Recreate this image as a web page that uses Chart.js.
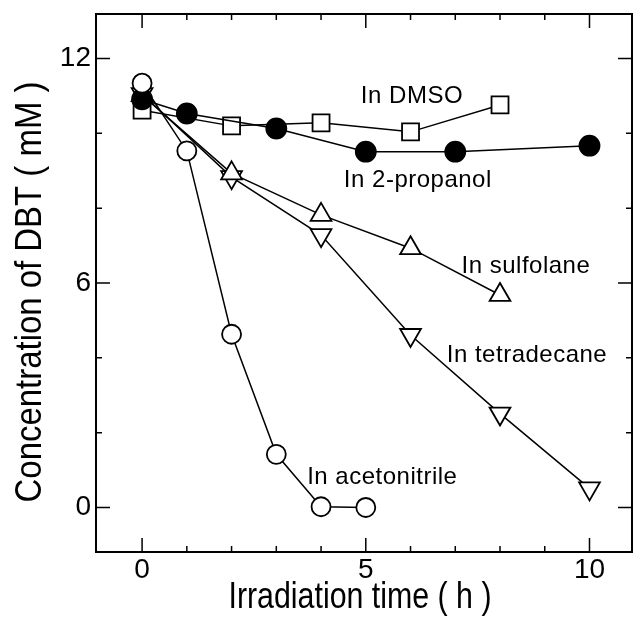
<!DOCTYPE html>
<html>
<head>
<meta charset="utf-8">
<script src="https://cdn.jsdelivr.net/npm/chart.js@4"></script>
<style>
  html, body { margin: 0; padding: 0; background: #fff; }
  #wrap { width: 633px; height: 630px; }
</style>
</head>
<body>
<div id="wrap"><canvas id="chart"></canvas></div>
<script>
// Data (time in h, DBT in mM)
const acetonitrileX = [0, 1, 2, 3, 4, 5];
const acetonitrileY = [11.34, 9.53, 4.63, 1.42, 0.02, 0.0];
const dmsoX = [0, 2, 4, 6, 8];
const dmsoY = [10.62, 10.2, 10.28, 10.04, 10.76];
const propanolX = [0, 1, 3, 5, 7, 10];
const propanolY = [10.91, 10.53, 10.13, 9.51, 9.51, 9.67];
const sulfolaneX = [0, 2, 4, 6, 8];
const sulfolaneY = [11.02, 8.93, 7.82, 6.93, 5.68];
const tetradecaneX = [0, 2, 4, 6, 8, 10];
const tetradecaneY = [11.05, 8.83, 7.28, 4.61, 2.51, 0.51];

// axes
const xTicks = [0, 1, 2, 3, 4, 5, 6, 7, 8, 9, 10];
const xLabels = [0, 5, 10];
const yTicks = [0, 2, 4, 6, 8, 10, 12];
const yLabels = [0, 6, 12];
const xTitle = "Irradiation time ( h )";
const yTitle = "Concentration of DBT ( mM )";

// text labels next to the curves
const noteTexts = ["In DMSO", "In 2-propanol", "In sulfolane", "In tetradecane", "In acetonitrile"];
const noteX = [4.89, 4.51, 7.14, 6.81, 3.69];
const noteY = [10.81, 8.56, 6.28, 3.89, 0.62];

const pts = (xs, ys) => xs.map((v, i) => ({ x: v, y: ys[i] }));

function series(label, data, style, fill, radius, rotation) {
  return {
    label: label,
    data: data,
    borderColor: "#000",
    borderWidth: 1.5,
    pointStyle: style,
    pointRadius: radius,
    pointRotation: rotation || 0,
    pointBackgroundColor: fill,
    pointBorderColor: "#000",
    pointBorderWidth: 1.8,
    tension: 0,
    fill: false,
    clip: false,
  };
}

const frameTicks = {
  id: "frameTicks",
  afterDraw(chart) {
    const { ctx, chartArea: a, scales } = chart;
    const x = scales.x, y = scales.y;
    ctx.save();
    ctx.strokeStyle = "#000";
    ctx.lineWidth = 1.5;
    ctx.beginPath();
    xTicks.forEach((v) => {
      const px = x.getPixelForValue(v);
      const len = xLabels.includes(v) ? 14 : 6;
      ctx.moveTo(px, a.bottom); ctx.lineTo(px, a.bottom - len);
      ctx.moveTo(px, a.top); ctx.lineTo(px, a.top + len);
    });
    yTicks.forEach((v) => {
      const py = y.getPixelForValue(v);
      const len = yLabels.includes(v) ? 14 : 6;
      ctx.moveTo(a.left, py); ctx.lineTo(a.left + len, py);
      ctx.moveTo(a.right, py); ctx.lineTo(a.right - len, py);
    });
    ctx.stroke();
    ctx.lineWidth = 2;
    ctx.strokeRect(a.left, a.top, a.right - a.left, a.bottom - a.top);

    // axis titles in a narrow face (squeezed sans)
    ctx.fillStyle = "#000";
    ctx.font = "37px 'Liberation Sans', Arial, sans-serif";
    ctx.textAlign = "center";
    ctx.textBaseline = "alphabetic";
    ctx.save();
    ctx.translate((a.left + a.right) / 2 - 4, 608);
    ctx.scale(0.82, 1);
    ctx.fillText(xTitle, 0, 0);
    ctx.restore();
    ctx.save();
    ctx.translate(41, (a.top + a.bottom) / 2 + 9);
    ctx.rotate(-Math.PI / 2);
    ctx.scale(0.89, 1);
    ctx.fillText(yTitle, 0, 0);
    ctx.restore();
    ctx.restore();
  },
};

const notes = {
  id: "notes",
  afterDatasetsDraw(chart) {
    const { ctx, scales } = chart;
    ctx.save();
    ctx.fillStyle = "#000";
    ctx.font = "24px 'Liberation Sans', Arial, sans-serif";
    ctx.letterSpacing = "0.5px";
    ctx.textAlign = "left";
    ctx.textBaseline = "alphabetic";
    noteTexts.forEach((t, i) => {
      ctx.fillText(t, scales.x.getPixelForValue(noteX[i]), scales.y.getPixelForValue(noteY[i]));
    });
    ctx.restore();
  },
};

new Chart(document.getElementById("chart"), {
  type: "line",
  data: {
    datasets: [
      series("In acetonitrile", pts(acetonitrileX, acetonitrileY), "circle", "#fff", 9.5),
      series("In 2-propanol", pts(propanolX, propanolY), "circle", "#000", 10),
      series("In sulfolane", pts(sulfolaneX, sulfolaneY), "triangle", "#fff", 12),
      series("In tetradecane", pts(tetradecaneX, tetradecaneY), "triangle", "#fff", 12, 180),
      series("In DMSO", pts(dmsoX, dmsoY), "rect", "#fff", 12),
    ],
  },
  options: {
    responsive: true,
    maintainAspectRatio: false,
    animation: false,
    layout: { autoPadding: false, padding: { top: 14, right: 1, left: 0, bottom: 0 } },
    plugins: { legend: { display: false }, tooltip: { enabled: false } },
    scales: {
      x: {
        type: "linear",
        min: -1.03,
        max: 10.95,
        afterBuildTicks: (s) => { s.ticks = xTicks.map((v) => ({ value: v })); },
        afterFit: (s) => { s.height = 78; s.paddingLeft = 0; s.paddingRight = 0; },
        grid: { display: false },
        border: { display: false },
        ticks: {
          autoSkip: false,
          maxRotation: 0,
          padding: -7,
          color: "#000",
          font: { family: "'Liberation Sans', Arial, sans-serif", size: 28 },
          callback: (v) => (xLabels.includes(v) ? String(v) : ""),
        },
      },
      y: {
        type: "linear",
        min: -1.19,
        max: 13.19,
        afterBuildTicks: (s) => { s.ticks = yTicks.map((v) => ({ value: v })); },
        afterFit: (s) => { s.width = 96; s.paddingTop = 0; s.paddingBottom = 0; },
        grid: { display: false },
        border: { display: false },
        ticks: {
          padding: -3,
          color: "#000",
          font: { family: "'Liberation Sans', Arial, sans-serif", size: 28 },
          callback: (v) => (yLabels.includes(v) ? String(v) : ""),
        },
      },
    },
  },
  plugins: [frameTicks, notes],
});
</script>
</body>
</html>
